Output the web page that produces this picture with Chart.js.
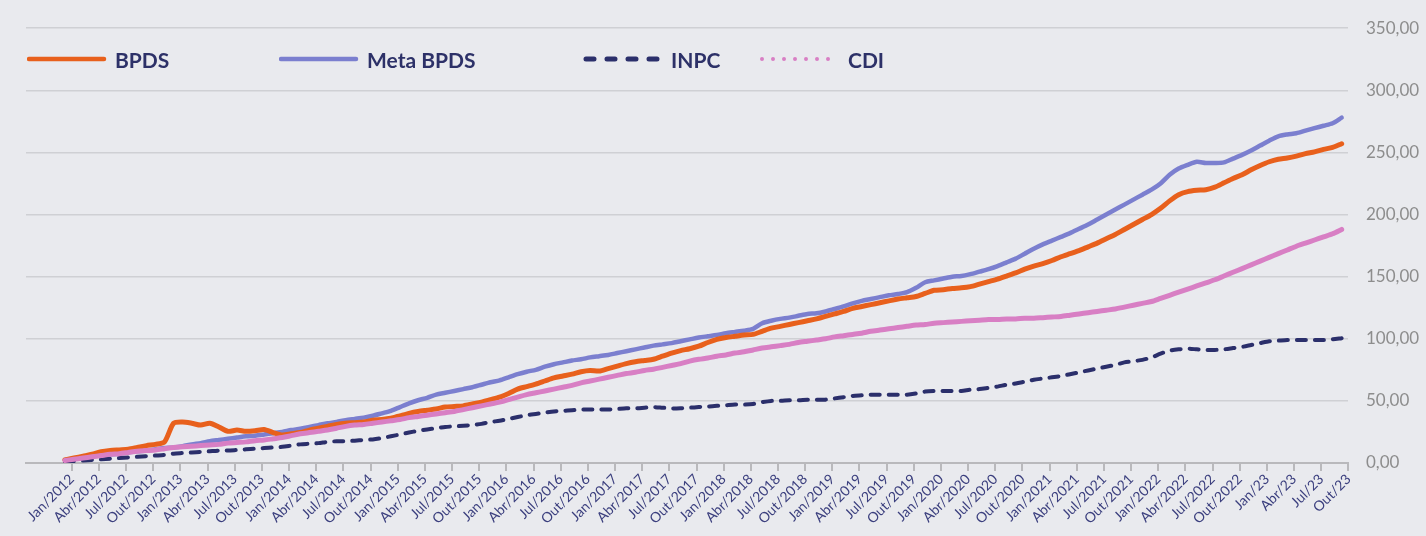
<!DOCTYPE html>
<html><head><meta charset="utf-8">
<script src="https://cdn.jsdelivr.net/npm/chart.js@4"></script>
<style>
html,body{margin:0;padding:0;background:#e9eaee;}
#wrap{position:relative;width:1426px;height:536px;background:#e9eaee;}
#legend{position:absolute;left:0;top:0;width:1426px;height:100px;pointer-events:none;font-family:Lato,"Open Sans",sans-serif;font-weight:700;font-size:21px;color:#2d3168;}
.item{position:absolute;top:46px;height:26px;display:flex;align-items:center;}
.item svg{display:block;margin-right:8px;}
</style></head>
<body>
<div id="wrap">
<canvas id="c" width="1426" height="536"></canvas>
<div id="legend"></div>
</div>
<script>
// Tick labels (every 3 months, Jan/2012 .. Out/2023)
const tickLabels = [
 "Jan/2012","Abr/2012","Jul/2012","Out/2012",
 "Jan/2013","Abr/2013","Jul/2013","Out/2013",
 "Jan/2014","Abr/2014","Jul/2014","Out/2014",
 "Jan/2015","Abr/2015","Jul/2015","Out/2015",
 "Jan/2016","Abr/2016","Jul/2016","Out/2016",
 "Jan/2017","Abr/2017","Jul/2017","Out/2017",
 "Jan/2018","Abr/2018","Jul/2018","Out/2018",
 "Jan/2019","Abr/2019","Jul/2019","Out/2019",
 "Jan/2020","Abr/2020","Jul/2020","Out/2020",
 "Jan/2021","Abr/2021","Jul/2021","Out/2021",
 "Jan/2022","Abr/2022","Jul/2022","Out/2022",
 "Jan/23","Abr/23","Jul/23","Out/23"
];
const seriesNames = ["BPDS","Meta BPDS","INPC","CDI"];

// Monthly values, Jan/2012 .. Out/2023 (142 months)
const bpds = [
 2.5,4,5.5,7,9,10,10.5,11,12.5,14,15,17,
 32,33,32,30.5,32,29,25.5,26.5,25.5,26,27,24.5,
 22.5,23.5,24.5,26.5,28,29.5,31,32,32.5,33,34.5,35,
 36,38,40,41.5,42.5,43.5,45,45.5,46,47.5,49,51,
 53,56,59.5,61.5,63.5,66,68.5,70,71.5,73.5,74.5,74,
 76,78,80,81.5,82.5,83.5,86,88.5,90.5,92,94,97,
 99.5,101,102,103,103.5,106,108.5,110,111.5,113,114.5,116,
 118,120,122,124.5,126,127.5,129,130.5,132,133,134,136.5,
 139,139.5,140.5,141,142,144,146,148,150.5,153,156,158.5,
 160.5,163,166,168.5,171,174,177,180.5,184,188,192,196,
 200,205,211,216,218.5,219.5,220,222,225.5,229,232,236,
 239.5,242.5,244.5,245.5,247,249,250.5,252.5,254,257
];
const metaBpds = [
 2.5,3.5,4.5,5.5,6.5,7,7.5,8.5,9.5,10,11,12,
 12.5,13.5,15,16,17.5,18.5,19.5,20.5,21.5,22,23,24,
 25,26.5,27.5,29,30.5,32,33,34.5,35.5,36.5,38,40,
 42,45,48,50.5,52.5,55,56.5,58,59.5,61,63,65,
 66.5,69,71.5,73.5,75,77.5,79.5,81,82.5,83.5,85,86,
 87,88.5,90,91.5,93,94.5,95.5,96.5,98,99.5,101,102,
 103,104.5,105.5,106.5,108,112.5,114.5,116,117,118.5,120,120.5,
 122,124,126,128.5,130.5,132,133.5,135,136,137.5,141,145.5,
 147,148.5,150,150.5,152,154,156,158.5,161.5,164.5,168.5,172.5,
 176,179,182,185,188.5,192,196,200,204,208,212,216,
 220,225,232,237,240,242.5,241.5,241.5,242,245,248,251.5,
 255.5,259.5,263,264.5,265.5,267.5,269.5,271.5,273.5,278
];
const inpc = [
 1,1.5,2,2.5,3,3.5,4,4.5,5,5.5,6,6.5,
 7.5,8,8.5,9,9.5,10,10,10.5,11,11.5,12,12.5,
 13,14,15,15.5,16,17,17.5,17.5,18,18.5,19,20,
 21.5,23,24.5,26,27,28,29,29.5,30,30.5,31.5,33,
 34,35.5,37,38.5,39.5,40.5,41.5,42,42.5,43,43,43,
 43,43.5,44,44,44.5,45,44.5,44,44,44.5,45,45.5,
 46,46.5,47,47,47.5,49,50,50,50.5,50.5,51,51,
 51,52,53,54,54.5,55,55,55,55,55,56,57.5,
 58,58,58,58,59,59.5,60.5,61.5,63,64,65.5,67,
 68,69,70,71.5,73,74.5,76,77.5,79,81,82,83,
 85,88,90.5,91.5,92,91.5,91,91,91.5,92.5,93.5,95,
 96.5,98,98.5,99,99,99,99,99,99.5,100.5
];
const cdi = [
 2,3,4,5,6,7,7.5,8.5,9.5,10,10.5,11.5,
 12.5,13,13.5,14,14.5,15,16,16.5,17,18,18.5,19.5,
 20.5,22,23.5,24.5,25.5,26.5,28,29.5,30.5,31,32,33,
 34,35,36.5,37.5,38.5,39.5,40.5,41.5,43,44.5,46,47.5,
 49,51,53,55,56.5,58,59.5,61,62.5,64.5,66,67.5,
 69,70.5,72,73,74.5,75.5,77,78.5,80,82,83.5,84.5,
 86,87,88.5,89.5,91,92.5,93.5,94.5,95.5,97,98,99,
 100,101.5,102.5,103.5,104.5,106,107,108,109,110,111,111.5,
 112.5,113,113.5,114,114.5,115,115.5,115.5,116,116,116.5,116.5,
 117,117.5,118,119,120,121,122,123,124,125.5,127,128.5,
 130,132.5,135,137.5,140,142.5,145,147.5,150.5,153.5,156.5,159.5,
 162.5,165.5,168.5,171.5,174.5,177,179.5,182,184.5,188
];

const colors = {bpds:"#e8601c", meta:"#7b7fcf", inpc:"#2b2f6b", cdi:"#d87fc4"};
const pts = arr => arr.map((v,i)=>({x:i,y:v}));

const ds = [
 {label:seriesNames[0], data:pts(bpds), borderColor:colors.bpds, borderWidth:5, order:1},
 {label:seriesNames[1], data:pts(metaBpds), borderColor:colors.meta, borderWidth:4.5, order:3},
 {label:seriesNames[2], data:pts(inpc), borderColor:colors.inpc, borderWidth:4, borderDash:[9,9], borderCapStyle:'round', order:2},
 {label:seriesNames[3], data:pts(cdi), borderColor:colors.cdi, borderWidth:5, order:0}
].map(d=>Object.assign({pointRadius:0, tension:0.25, fill:false, borderJoinStyle:'round', borderCapStyle: d.borderCapStyle||'round'}, d));

new Chart(document.getElementById('c'), {
 type:'line',
 data:{datasets:ds},
 options:{
  responsive:false, animation:false,
  layout:{padding:{left:26, top:27, right:0, bottom:0}},
  plugins:{legend:{display:false}, tooltip:{enabled:false}},
  scales:{
   x:{
    type:'linear', min:-4.3, max:141.7,
    afterBuildTicks: s => { s.ticks = tickLabels.map((_,k)=>({value:0.75+3*k})); },
    afterFit: s => { s.height = 73; },
    ticks:{autoSkip:false, minRotation:45, maxRotation:45, padding:0,
      callback:(v,idx)=>tickLabels[idx],
      color:'#3b3f7e', font:{family:'Lato', size:14}},
    grid:{drawOnChartArea:false, drawTicks:true, tickLength:8, color:'#b9b9bc', lineWidth:2},
    border:{display:true, color:'#b9b9bc', width:2}
   },
   y:{
    position:'right', min:0, max:350,
    afterFit: s => { s.width = 78; },
    ticks:{stepSize:50, padding:18, color:'#8d8d8d', font:{family:'Lato', size:17},
      callback:v=>v.toFixed(2).replace('.',',')},
    grid:{color:'#cfd0d4', lineWidth:1.5, drawTicks:false},
    border:{display:false}
   }
  }
 }
});

// HTML legend overlay
const leg = document.getElementById('legend');
const items = [
 {x:27, name:seriesNames[0], svg:`<line x1="2" y1="6" x2="77" y2="6" stroke="${colors.bpds}" stroke-width="4.5" stroke-linecap="round"/>`},
 {x:279, name:seriesNames[1], svg:`<line x1="2" y1="6" x2="77" y2="6" stroke="${colors.meta}" stroke-width="4.5" stroke-linecap="round"/>`},
 {x:583, name:seriesNames[2], svg:`<line x1="3" y1="6" x2="77" y2="6" stroke="${colors.inpc}" stroke-width="5" stroke-linecap="round" stroke-dasharray="8 13"/>`},
 {x:760, name:seriesNames[3], svg:`<line x1="2" y1="6" x2="79" y2="6" stroke="${colors.cdi}" stroke-width="4" stroke-linecap="round" stroke-dasharray="0 11"/>`}
];
items.forEach(it=>{
 const d = document.createElement('div');
 d.className='item'; d.style.left=it.x+'px';
 d.innerHTML = `<svg width="80" height="12">${it.svg}</svg><span>${it.name}</span>`;
 leg.appendChild(d);
});
</script>
</body></html>
